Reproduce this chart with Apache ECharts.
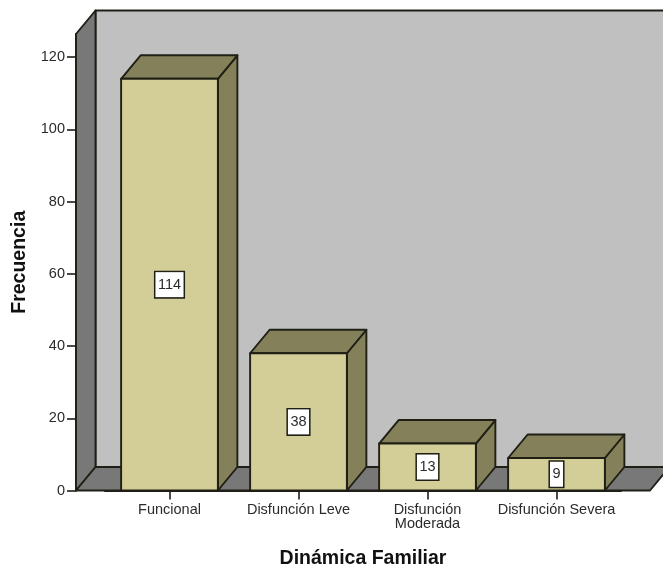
<!DOCTYPE html>
<html>
<head>
<meta charset="utf-8">
<style>html,body{margin:0;padding:0;background:#fff}#chart{width:663px;height:566px}</style>
<script src="https://cdn.jsdelivr.net/npm/echarts@6/dist/echarts.min.js"></script>
</head>
<body>
<div id="chart"></div>
<script>
// Frequencies by family dynamics category
const categories = ['Funcional', 'Disfunción Leve', 'Disfunción\nModerada', 'Disfunción Severa'];
const frequencies = [114, 38, 13, 9];
const yTickValues = [0, 20, 40, 60, 80, 100, 120];
const yTop = 126.4;

// Oblique projection of the box depth, in pixels
const depthX = 19.5;
const depthY = -23.5;
const floorPad = 29;
const barRatio = 0.75;

const colors = {
  wall: '#c0c0c0',
  side: '#787878',
  front: '#d3ce97',
  shade: '#83805a',
  edge: '#1f1f16',
  text: '#2b2b2b'
};

function poly(points, fill) {
  return {
    type: 'polygon',
    shape: { points },
    style: { fill, stroke: colors.edge, lineWidth: 1.9, lineJoin: 'round' }
  };
}

// Back wall, left wall and floor of the plotting box
function renderFrame(params, api) {
  const band = api.size([1, 0])[0];
  const x0 = api.coord([0, 0])[0] - band / 2 - floorPad;
  const x1 = api.coord([categories.length - 1, 0])[0] + band / 2 + floorPad;
  const y0 = api.coord([0, 0])[1];
  const yT = api.coord([0, yTop])[1];
  return {
    type: 'group',
    children: [
      poly([[x0 + depthX, y0 + depthY], [x1 + depthX, y0 + depthY], [x1 + depthX, yT + depthY], [x0 + depthX, yT + depthY]], colors.wall),
      poly([[x0, y0], [x0 + depthX, y0 + depthY], [x0 + depthX, yT + depthY], [x0, yT]], colors.side),
      poly([[x0, y0], [x1, y0], [x1 + depthX, y0 + depthY], [x0 + depthX, y0 + depthY]], colors.side)
    ]
  };
}

// One box per category, with its count in a white tag on the front face
function renderBar(params, api) {
  const idx = api.value(0);
  const val = api.value(1);
  const base = api.coord([idx, 0]);
  const top = api.coord([idx, val]);
  const w = api.size([1, 0])[0] * barRatio;
  const l = base[0] - w / 2;
  const r = base[0] + w / 2;
  return {
    type: 'group',
    children: [
      poly([[r, base[1]], [r + depthX, base[1] + depthY], [r + depthX, top[1] + depthY], [r, top[1]]], colors.shade),
      poly([[l, top[1]], [r, top[1]], [r + depthX, top[1] + depthY], [l + depthX, top[1] + depthY]], colors.shade),
      poly([[l, base[1]], [r, base[1]], [r, top[1]], [l, top[1]]], colors.front),
      {
        type: 'text',
        style: {
          x: base[0],
          y: (base[1] + top[1]) / 2,
          text: String(val),
          align: 'center',
          verticalAlign: 'middle',
          fill: colors.text,
          font: '14.5px "Liberation Sans"',
          backgroundColor: '#fff',
          borderColor: colors.edge,
          borderWidth: 1.5,
          padding: [5, 2.5, 5, 2.5]
        }
      }
    ]
  };
}

const chart = echarts.init(document.getElementById('chart'), null, { renderer: 'canvas' });
chart.setOption({
  animation: false,
  backgroundColor: '#fff',
  grid: { left: 105, right: 42, top: 34, bottom: 75.5, containLabel: false, outerBoundsMode: 'none' },
  xAxis: {
    type: 'category',
    data: categories,
    name: 'Dinámica Familiar',
    nameLocation: 'middle',
    nameGap: 58,
    nameTextStyle: { fontFamily: 'Liberation Sans', fontWeight: 'bold', fontSize: 19.5, color: '#111' },
    axisLine: { lineStyle: { color: colors.edge, width: 1.9 } },
    axisTick: { show: true, alignWithLabel: true, length: 9, lineStyle: { color: colors.edge, width: 1.6 } },
    axisLabel: { margin: 12, interval: 0, fontFamily: 'Liberation Sans', fontSize: 14.5, lineHeight: 14, color: colors.text }
  },
  yAxis: {
    type: 'value',
    min: 0,
    max: yTop,
    interval: 20,
    offset: floorPad,
    name: 'Frecuencia',
    nameLocation: 'middle',
    nameGap: 46,
    nameTextStyle: { fontFamily: 'Liberation Sans', fontWeight: 'bold', fontSize: 19.5, color: '#111' },
    splitLine: { show: false },
    axisLine: { show: true, lineStyle: { color: colors.edge, width: 1.9 } },
    axisTick: { show: true, length: 9, customValues: yTickValues, lineStyle: { color: colors.edge, width: 1.6 } },
    axisLabel: { margin: 11, customValues: yTickValues, fontFamily: 'Liberation Sans', fontSize: 14.5, color: colors.text }
  },
  series: [
    { type: 'custom', renderItem: renderFrame, data: [[0, 0]], silent: true, z: 1 },
    {
      type: 'custom',
      renderItem: renderBar,
      data: frequencies.map((v, i) => [i, v]),
      encode: { x: 0, y: 1 },
      silent: true,
      z: 2
    }
  ]
});
</script>
</body>
</html>
